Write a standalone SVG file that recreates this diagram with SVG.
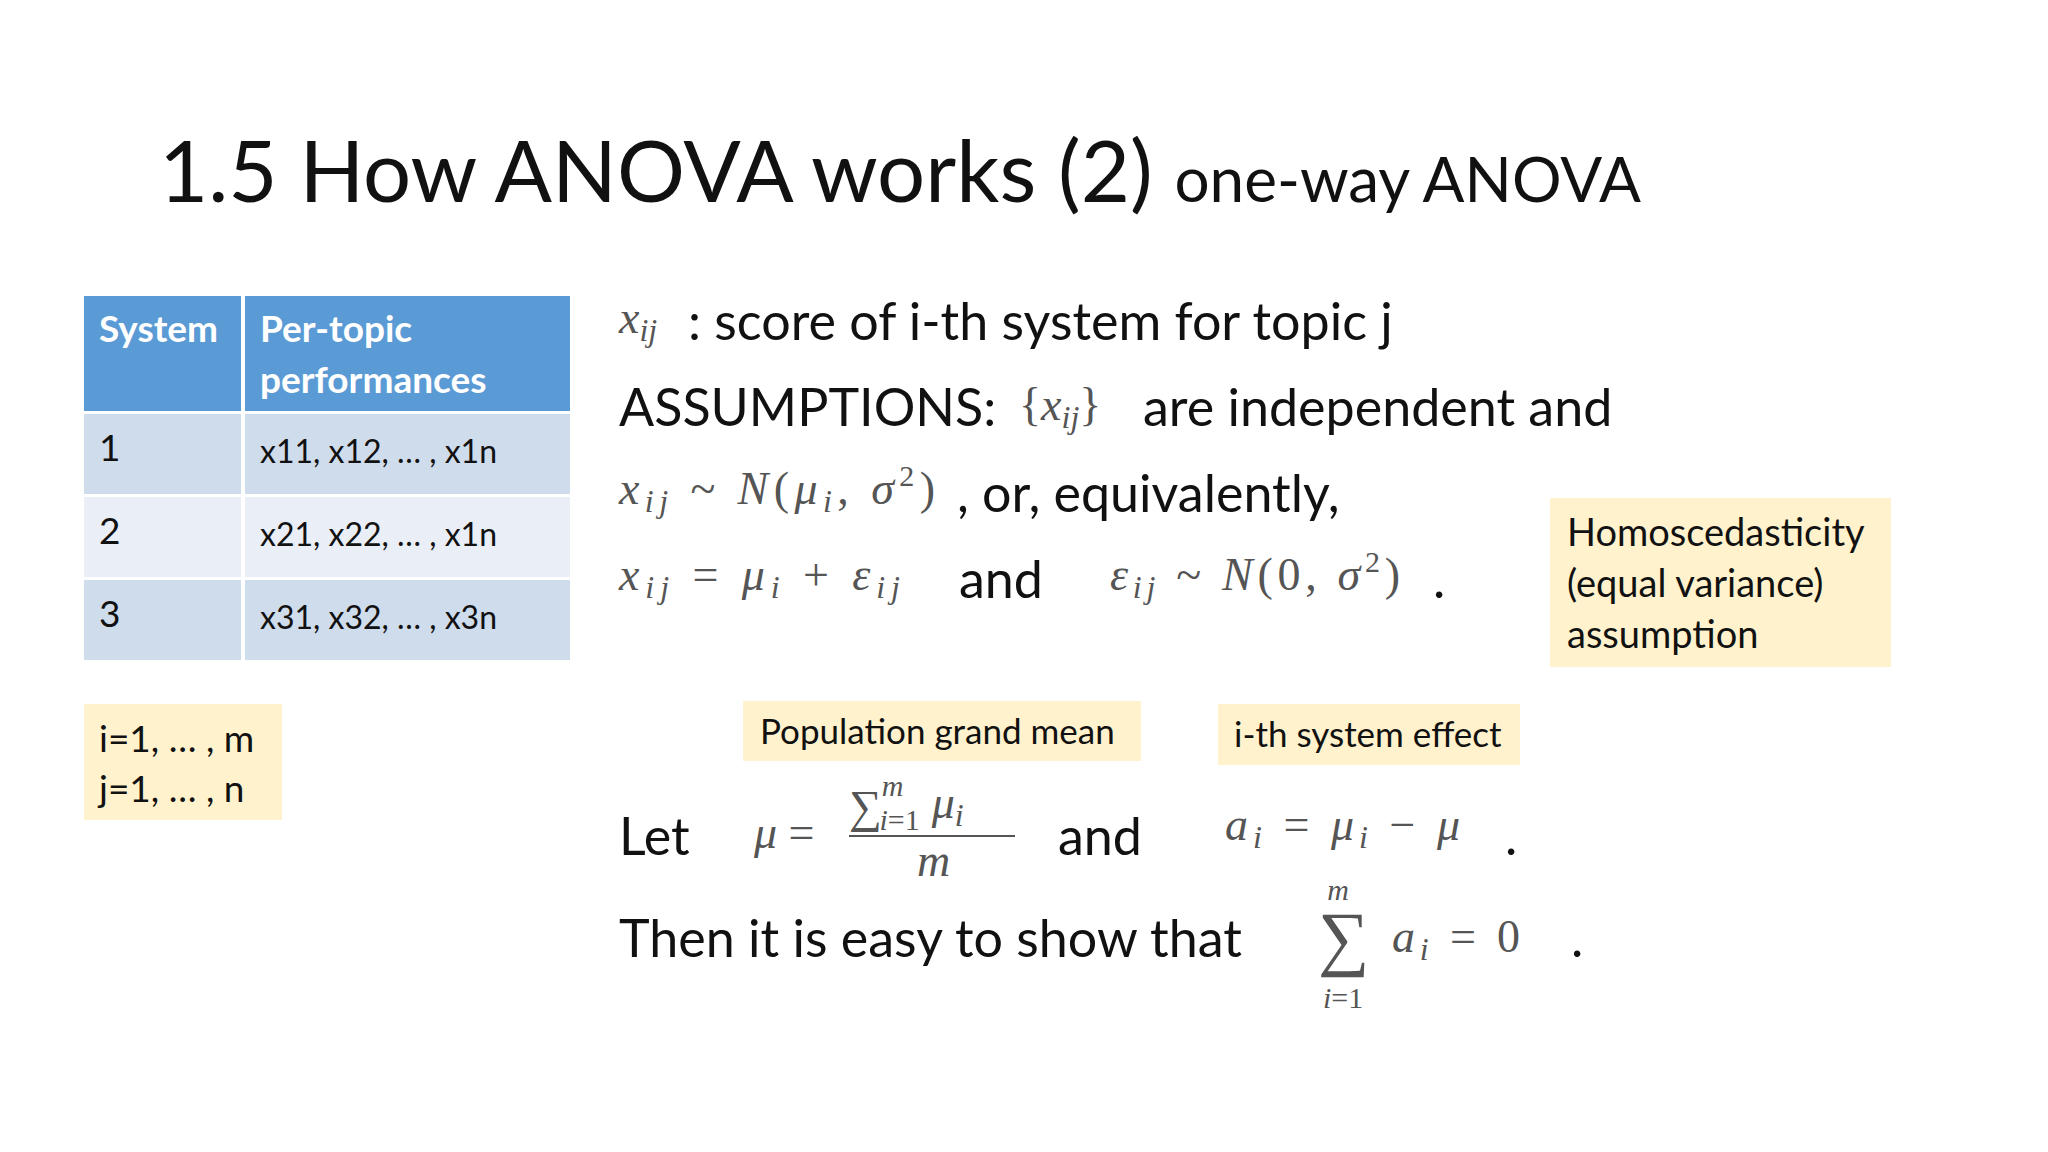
<svg xmlns="http://www.w3.org/2000/svg" width="2048" height="1152" viewBox="0 0 2048 1152">
<style>
.t{font-family:Lato,"Open Sans",sans-serif;fill:#111}
.w{font-family:Lato,"Open Sans",sans-serif;fill:#fff;font-weight:bold;font-size:37px}
.c{font-family:Lato,"Open Sans",sans-serif;fill:#111;font-size:32px}
.m{font-family:"Liberation Serif",serif;font-style:italic;fill:#555}
.r{font-family:"Liberation Serif",serif;fill:#555;font-style:normal}
.y{fill:#fff2cc}
</style>
<rect width="2048" height="1152" fill="#fff"/>
<g id="title"><text x="159" y="202" class="t" font-size="85">1.5 How ANOVA works (2) <tspan font-size="62">one-way ANOVA</tspan></text></g>
<g id="table">
<rect x="84" y="296" width="157" height="115" fill="#5b9bd5"/>
<rect x="245" y="296" width="325" height="115" fill="#5b9bd5"/>
<rect x="84" y="414" width="157" height="80" fill="#cfdcec"/>
<rect x="245" y="414" width="325" height="80" fill="#cfdcec"/>
<rect x="84" y="497" width="157" height="80" fill="#e9eef7"/>
<rect x="245" y="497" width="325" height="80" fill="#e9eef7"/>
<rect x="84" y="580" width="157" height="80" fill="#cfdcec"/>
<rect x="245" y="580" width="325" height="80" fill="#cfdcec"/>
<text x="99" y="342" class="w">System</text>
<text x="260" y="342" class="w">Per-topic</text>
<text x="260" y="393" class="w">performances</text>
<text x="99" y="461" class="t" font-size="37">1</text>
<text x="99" y="544" class="t" font-size="37">2</text>
<text x="99" y="627" class="t" font-size="37">3</text>
<text x="260" y="463" class="c">x11, x12, … , x1n</text>
<text x="260" y="546" class="c">x21, x22, … , x1n</text>
<text x="260" y="629" class="c">x31, x32, … , x3n</text>
</g>
<g id="indices"><rect x="84" y="704" width="198" height="116" class="y"/>
<text x="99" y="752" class="t" font-size="37">i=1, … , m</text>
<text x="99" y="802" class="t" font-size="37">j=1, … , n</text></g>
<g id="homo"><rect x="1550" y="498" width="341" height="169" class="y"/>
<text x="1567" y="546" class="t" font-size="38">Homoscedasticity</text>
<text x="1567" y="597" class="t" font-size="38">(equal variance)</text>
<text x="1567" y="648" class="t" font-size="38">assumption</text></g>
<g id="grandmean"><rect x="743" y="701" width="398" height="60" class="y"/>
<text x="760" y="744" class="t" font-size="35">Population grand mean</text></g>
<g id="effect"><rect x="1218" y="704" width="302" height="61" class="y"/>
<text x="1234" y="747" class="t" font-size="35">i-th system effect</text></g>
<g id="body">
<text x="619" y="333" class="m" font-size="46">x<tspan font-size="32" dy="8">ij</tspan></text>
<text x="688" y="340" class="t" font-size="52">: score of i-th system for topic j</text>
<text x="619" y="426" class="t" font-size="52">ASSUMPTIONS:</text>
<text x="1019" y="420" class="r" font-size="46">{<tspan class="m">x<tspan font-size="32" dy="8">ij</tspan></tspan><tspan dy="-8">}</tspan></text>
<text x="1143" y="426" class="t" font-size="52">are independent and</text>
<text x="619" y="504" class="m" font-size="46" textLength="316" lengthAdjust="spacing">x<tspan font-size="32" dy="8">ij</tspan><tspan class="r" dy="-8"> ~ </tspan>N<tspan class="r">(</tspan>μ<tspan font-size="32" dy="8">i</tspan><tspan class="r" dy="-8">, </tspan>σ<tspan class="r" font-size="30" dy="-18">2</tspan><tspan class="r" dy="18">)</tspan></text>
<text x="957" y="512" class="t" font-size="52">, or, equivalently,</text>
<text x="619" y="590" class="m" font-size="46" textLength="281" lengthAdjust="spacing">x<tspan font-size="32" dy="8">ij</tspan><tspan class="r" dy="-8"> = </tspan>μ<tspan font-size="32" dy="8">i</tspan><tspan class="r" dy="-8"> + </tspan>ε<tspan font-size="32" dy="8">ij</tspan></text>
<text x="959" y="598" class="t" font-size="52">and</text>
<text x="1110" y="590" class="m" font-size="46" textLength="290" lengthAdjust="spacing">ε<tspan font-size="32" dy="8">ij</tspan><tspan class="r" dy="-8"> ~ </tspan>N<tspan class="r">(0, </tspan>σ<tspan class="r" font-size="30" dy="-18">2</tspan><tspan class="r" dy="18">)</tspan></text>
<text x="1433" y="598" class="t" font-size="52">.</text>
<text x="619" y="855" class="t" font-size="52">Let</text>
<text x="754" y="848" class="m" font-size="46">μ <tspan class="r">=</tspan></text>
<text x="849" y="822" class="r" font-size="46">∑<tspan class="m" font-size="30" dy="-26">m</tspan><tspan font-size="30" dx="-24" dy="34"><tspan class="m">i</tspan>=1</tspan><tspan class="m" dx="12" dy="-12">μ<tspan font-size="32" dy="8">i</tspan></tspan></text>
<line x1="849" y1="836" x2="1015" y2="836" stroke="#555" stroke-width="2"/>
<text x="917" y="876" class="m" font-size="46">m</text>
<text x="1058" y="855" class="t" font-size="52">and</text>
<text x="1225" y="840" class="m" font-size="46" textLength="235" lengthAdjust="spacing">a<tspan font-size="32" dy="8">i</tspan><tspan class="r" dy="-8"> = </tspan>μ<tspan font-size="32" dy="8">i</tspan><tspan class="r" dy="-8"> − </tspan>μ</text>
<text x="1505" y="855" class="t" font-size="52">.</text>
<text x="619" y="957" class="t" font-size="52">Then it is easy to show that</text>
<text x="1318" y="962" class="r" font-size="72">∑<tspan class="m" font-size="30" dx="-42" dy="-62">m</tspan><tspan font-size="30" dx="-26" dy="108"><tspan class="m">i</tspan>=1</tspan></text>
<text x="1392" y="952" class="m" font-size="46" textLength="128" lengthAdjust="spacing">a<tspan font-size="32" dy="8">i</tspan><tspan class="r" dy="-8"> = 0</tspan></text>
<text x="1571" y="957" class="t" font-size="52">.</text>
</g>
</svg>
